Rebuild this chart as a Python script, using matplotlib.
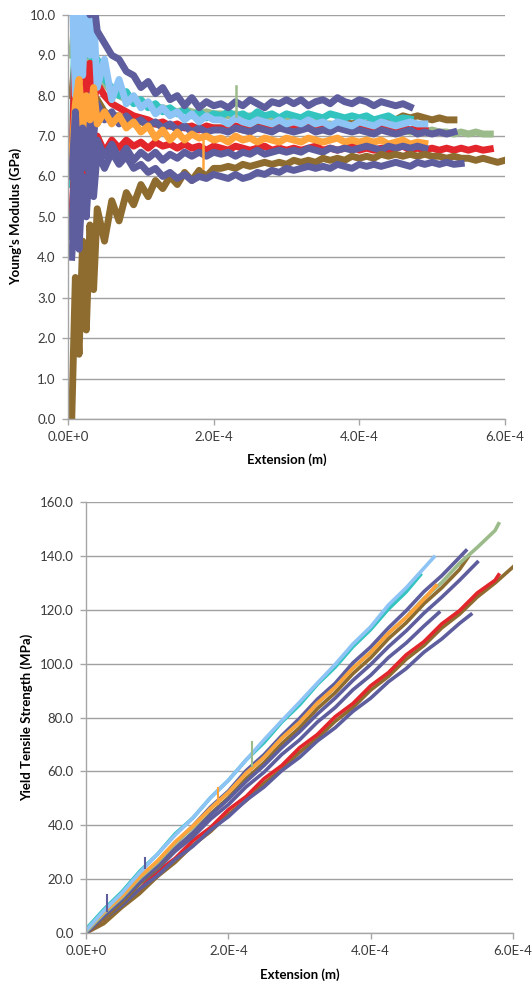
import numpy as np
import matplotlib
matplotlib.use("Agg")
import matplotlib.pyplot as plt
from matplotlib.ticker import FuncFormatter, MultipleLocator

plt.rcParams['font.family'] = ['Lato', 'DejaVu Sans']

# colours of the series
SLATE = "#5E5E9E"
RED = "#E2262B"
BROWN = "#8E6C30"
GREEN = "#9CBB8A"
TEAL = "#33C4C0"
LBLUE = "#8DC4F5"
ORANGE = "#FFA33A"

# ---------- top chart: Young's modulus (GPa) vs extension (x 1E-4 m) ----------
x_top = [0.05, 0.1, 0.15, 0.2, 0.25, 0.3, 0.35, 0.4,
         0.5, 0.6, 0.7, 0.8, 0.9, 1.0,
         1.1, 1.2, 1.3, 1.4, 1.5, 1.6, 1.7, 1.8, 1.9, 2.0,
         2.1, 2.2, 2.3, 2.4, 2.5, 2.6, 2.7, 2.8, 2.9, 3.0,
         3.1, 3.2, 3.3, 3.4, 3.5, 3.6, 3.7, 3.8, 3.9, 4.0,
         4.1, 4.2, 4.3, 4.4, 4.5, 4.6, 4.7, 4.8, 4.9, 5.0,
         5.1, 5.2, 5.3, 5.4, 5.5, 5.6, 5.7, 5.8, 5.9, 6.0]

ym_green = [9.0, 10.0, 8.5, 9.5, 8.5, 9.0, 8.2, 8.6,
            8.3, 8.1, 8.0, 7.9, 7.85, 7.8,
            7.75, 7.7, 7.7, 7.65, 7.6, 7.65, 7.6, 7.55, 7.6, 7.55,
            7.55, 7.5, 7.55, 7.45, 7.5, 7.45, 7.5, 7.4, 7.45, 7.4,
            7.35, 7.4, 7.3, 7.35, 7.3, 7.3, 7.25, 7.3, 7.25, 7.2,
            7.25, 7.2, 7.15, 7.2, 7.15, 7.15, 7.1, 7.15, 7.1, 7.15,
            7.1, 7.1, 7.05, 7.1, 7.05, 7.1, 7.05, 7.05]
ym_brown_up = [8.0, 9.0, 7.5, 8.5, 7.8, 8.2, 7.6, 7.9,
               7.6, 7.5, 7.5, 7.4, 7.4, 7.35,
               7.3, 7.3, 7.25, 7.25, 7.2, 7.25, 7.2, 7.2, 7.2, 7.2,
               7.2, 7.15, 7.2, 7.15, 7.2, 7.25, 7.2, 7.25, 7.2, 7.25,
               7.2, 7.25, 7.3, 7.25, 7.3, 7.25, 7.3, 7.35, 7.3, 7.35,
               7.3, 7.35, 7.4, 7.45, 7.4, 7.5, 7.45, 7.5, 7.45, 7.4,
               7.45, 7.4, 7.4]
ym_teal = [5.8, 10.5, 9.2, 10.2, 9.0, 9.4, 8.6, 8.9,
           8.4, 8.2, 8.0, 8.1, 7.8, 7.9,
           7.7, 7.8, 7.6, 7.7, 7.55, 7.65, 7.5, 7.6, 7.45, 7.55,
           7.5, 7.6, 7.5, 7.55, 7.45, 7.6, 7.5, 7.55, 7.45, 7.55,
           7.5, 7.45, 7.55, 7.5, 7.45, 7.55, 7.5, 7.45, 7.5, 7.45,
           7.5, 7.4, 7.45, 7.5, 7.4, 7.45, 7.42]
ym_red_up = [6.0, 9.5, 7.5, 9.0, 8.0, 8.8, 7.8, 8.3,
             8.0, 7.8, 7.7, 7.6, 7.5, 7.45,
             7.4, 7.3, 7.35, 7.25, 7.3, 7.2, 7.25, 7.15, 7.25, 7.2,
             7.2, 7.15, 7.25, 7.2, 7.15, 7.2, 7.25, 7.15, 7.2, 7.25,
             7.2, 7.25, 7.2, 7.3, 7.2, 7.25, 7.2, 7.25, 7.2, 7.25,
             7.2, 7.15, 7.2, 7.25, 7.15, 7.2, 7.15, 7.2, 7.15]
ym_red_low = [5.0, 6.6, 5.2, 7.2, 5.6, 6.8, 6.2, 7.0,
              6.6, 6.9, 6.7, 6.9, 6.75, 6.85,
              6.7, 6.85, 6.75, 6.8, 6.7, 6.8, 6.7, 6.75, 6.65, 6.75,
              6.7, 6.65, 6.75, 6.7, 6.65, 6.7, 6.75, 6.65, 6.7, 6.65,
              6.7, 6.65, 6.7, 6.75, 6.65, 6.7, 6.65, 6.7, 6.75, 6.65,
              6.7, 6.65, 6.7, 6.65, 6.7, 6.75, 6.65, 6.7, 6.65, 6.7,
              6.65, 6.7, 6.65, 6.7, 6.65, 6.7, 6.65, 6.68]
ym_lblue = [11.0, 8.0, 11.0, 8.5, 10.5, 9.0, 10.0, 8.2,
            8.9, 7.9, 8.4, 7.8, 8.0, 7.7,
            7.85, 7.55, 7.7, 7.5, 7.6, 7.4, 7.55, 7.35, 7.5, 7.4,
            7.4, 7.3, 7.45, 7.35, 7.3, 7.4, 7.35, 7.3, 7.4, 7.3,
            7.35, 7.3, 7.4, 7.3, 7.35, 7.25, 7.35, 7.3, 7.25, 7.35,
            7.3, 7.25, 7.35, 7.3, 7.25, 7.3, 7.35, 7.3, 7.3]
ym_orange = [6.5, 7.8, 8.4, 7.2, 8.0, 7.4, 8.2, 7.3,
             7.6, 7.3, 7.5, 7.2, 7.35, 7.1,
             7.25, 6.95, 7.15, 6.9, 7.1, 6.9, 7.05, 6.95, 7.0, 6.9,
             6.95, 6.85, 7.0, 6.9, 6.95, 6.85, 6.95, 6.9, 6.85, 6.95,
             6.9, 6.85, 6.95, 6.9, 6.85, 6.9, 6.95, 6.85, 6.9, 6.85,
             6.9, 6.85, 6.9, 6.8, 6.85, 6.9, 6.8, 6.85, 6.82]
ym_slate_mid = [4.5, 6.8, 5.2, 7.6, 6.5, 8.0, 7.0, 7.8,
                7.4, 7.6, 7.3, 7.5, 7.3, 7.4,
                7.25, 7.35, 7.2, 7.3, 7.15, 7.25, 7.1, 7.2, 7.1, 7.15,
                7.15, 7.1, 7.2, 7.15, 7.1, 7.2, 7.15, 7.1, 7.2, 7.15,
                7.1, 7.15, 7.2, 7.1, 7.15, 7.1, 7.2, 7.15, 7.1, 7.15,
                7.1, 7.05, 7.15, 7.1, 7.05, 7.1, 7.15, 7.05, 7.1, 7.05,
                7.1, 7.05, 7.1]
ym_slate_lowmid = [6.0, 7.6, 5.5, 7.2, 6.2, 7.0, 6.4, 6.9,
                   6.5, 6.8, 6.45, 6.7, 6.4, 6.6,
                   6.45, 6.6, 6.4, 6.55, 6.45, 6.6, 6.5, 6.6, 6.5, 6.6,
                   6.55, 6.6, 6.5, 6.6, 6.55, 6.65, 6.55, 6.6, 6.65, 6.6,
                   6.65, 6.6, 6.7, 6.65, 6.6, 6.7, 6.65, 6.7, 6.65, 6.7,
                   6.75, 6.7, 6.65, 6.75, 6.7, 6.75, 6.7, 6.75, 6.7]
ym_brown_low = [0.0, 3.5, 1.6, 4.4, 2.2, 4.8, 3.2, 5.2,
                4.4, 5.4, 4.9, 5.6, 5.3, 5.8,
                5.5, 5.9, 5.7, 6.0, 5.8, 6.1, 5.9, 6.15, 6.0, 6.2,
                6.2, 6.25, 6.2, 6.3, 6.25, 6.3, 6.35, 6.3, 6.35, 6.3,
                6.4, 6.35, 6.4, 6.35, 6.45, 6.4, 6.45, 6.4, 6.5, 6.45,
                6.5, 6.45, 6.55, 6.5, 6.55, 6.5, 6.55, 6.5, 6.55, 6.5,
                6.5, 6.45, 6.5, 6.45, 6.45, 6.4, 6.45, 6.4, 6.35, 6.4]
ym_slate_bot = [4.0, 5.5, 4.2, 6.0, 5.0, 6.5, 5.5, 6.6,
                6.2, 6.6, 6.3, 6.5, 6.2, 6.3,
                6.1, 6.2, 6.0, 6.1, 5.95, 6.05, 5.9, 6.0, 5.95, 6.05,
                6.0, 5.95, 6.05, 5.95, 6.0, 6.1, 6.05, 6.15, 6.1, 6.2,
                6.15, 6.2, 6.25, 6.2, 6.25, 6.2, 6.3, 6.25, 6.2, 6.3,
                6.25, 6.3, 6.25, 6.3, 6.35, 6.3, 6.25, 6.35, 6.3, 6.35,
                6.3, 6.35, 6.3, 6.32]
ym_slate_top = [11.0, 10.5, 11.0, 10.2, 10.6, 10.0, 10.4, 9.6,
                9.3, 9.0, 8.9, 8.6, 8.5, 8.2,
                8.35, 8.05, 8.2, 7.9, 8.0, 7.75, 7.95, 7.7, 7.85, 7.75,
                7.8, 7.7, 7.85, 7.75, 7.9, 7.8, 7.7, 7.85, 7.8, 7.9,
                7.8, 7.9, 7.75, 7.85, 7.9, 7.8, 7.95, 7.85, 7.8, 7.9,
                7.85, 7.75, 7.85, 7.8, 7.75, 7.8, 7.72]

# drawing order, back to front
top_series = [
    (ym_green, GREEN), (ym_brown_up, BROWN), (ym_teal, TEAL),
    (ym_red_up, RED), (ym_red_low, RED), (ym_slate_mid, SLATE),
    (ym_lblue, LBLUE), (ym_orange, ORANGE), (ym_slate_lowmid, SLATE),
    (ym_brown_low, BROWN), (ym_slate_bot, SLATE), (ym_slate_top, SLATE),
]
# single-sample spikes: extension, base, tip
top_spikes = [(2.3, 7.5, 8.25, GREEN), (1.85, 6.95, 6.2, ORANGE)]

# ---------- bottom chart: yield tensile strength (MPa) vs extension ----------
x_bot = [0, 0.25, 0.5, 0.75, 1.0, 1.25, 1.5, 1.75, 2.0, 2.25, 2.5, 2.75,
         3.0, 3.25, 3.5, 3.75, 4.0, 4.25, 4.5, 4.75, 5.0, 5.25, 5.5, 5.75]

ys_brown_low = [0, 3.5, 9.4, 14.6, 20.9, 26.2, 32.6, 37.7, 44.1, 49.2, 55.6, 60.7,
                67.1, 72.3, 78.6, 83.7, 90.2, 95.3, 101.7, 106.8, 113.3, 118.4, 124.8, 130.0]
ys_red = [0, 5.2, 11.3, 16.2, 22.8, 27.7, 34.3, 39.2, 45.8, 50.7, 57.3, 62.2,
          68.8, 73.7, 80.3, 85.2, 91.8, 96.7, 103.3, 108.2, 114.8, 119.7, 126.3, 131.0]
ys_slate_d = [0, 5.3, 10.2, 16.3, 21.2, 27.3, 32.2, 38.3, 43.2, 49.3, 54.2, 60.3,
              65.2, 71.3, 76.2, 82.3, 87.2, 93.3, 98.2, 104.3, 109.2, 115.0]
ys_slate_c = [0, 6.3, 11.7, 18.3, 23.7, 30.3, 35.7, 42.3, 47.7, 54.3, 59.7, 66.3,
              71.7, 78.3, 83.7, 90.3, 95.7, 102.3, 107.7, 114.0]
ys_brown_up = [0, 5.3, 11.2, 18.3, 24.2, 31.3, 37.2, 44.3, 50.2, 57.3, 63.2, 70.3,
               76.2, 83.3, 89.2, 96.3, 102.2, 109.3, 115.2, 122.3, 128.2, 135.0]
ys_slate_b = [0, 6.3, 12.2, 18.8, 24.7, 31.3, 37.2, 43.8, 49.7, 56.3, 62.2, 68.8,
              74.7, 81.3, 87.2, 93.8, 99.7, 106.3, 112.2, 118.8, 124.7, 131.0]
ys_slate_a = [0.5, 7.3, 13.2, 20.3, 26.2, 33.3, 39.7, 46.8, 52.7, 60.3, 66.2, 73.3,
              79.7, 86.8, 92.7, 100.3, 106.2, 113.3, 119.7, 126.8, 132.7, 139.5]
ys_green = [0.5, 7.3, 13.2, 20.3, 26.2, 33.3, 39.2, 46.3, 52.2, 59.3, 65.2, 72.3,
            78.2, 85.3, 91.2, 98.3, 104.2, 111.3, 117.2, 124.3, 130.2, 137.3, 143.2, 149.5]
ys_orange = [1.0, 7.8, 13.7, 20.8, 26.7, 33.8, 39.7, 46.3, 52.2, 59.3, 65.2, 72.3,
             78.2, 85.3, 91.2, 98.3, 104.2, 111.3, 117.2, 124.0]
ys_teal = [1.5, 8.8, 15.2, 22.8, 29.2, 36.8, 42.7, 50.3, 56.7, 64.3, 70.7, 78.3,
           84.7, 92.3, 98.7, 106.3, 112.7, 120.3, 126.7]
ys_lblue = [1.0, 8.3, 14.7, 22.3, 29.2, 36.3, 42.7, 50.3, 56.7, 64.3, 71.7, 78.8,
            85.7, 92.8, 99.7, 107.3, 113.7, 121.8, 128.2, 135.5]

# where each run stops: extension, strength
bot_ends = {
    "brown_low": (6.0, 135.9), "red": (5.8, 133.0), "slate_d": (5.41, 118.3),
    "slate_c": (4.96, 119.0), "brown_up": (5.37, 139.6), "slate_b": (5.5, 137.7),
    "slate_a": (5.34, 142.0), "green": (5.8, 152.0), "orange": (4.92, 129.0),
    "teal": (4.7, 133.0), "lblue": (4.89, 139.6),
}
bot_series = [
    ("brown_low", ys_brown_low, BROWN), ("red", ys_red, RED),
    ("slate_d", ys_slate_d, SLATE), ("slate_c", ys_slate_c, SLATE),
    ("brown_up", ys_brown_up, BROWN), ("slate_b", ys_slate_b, SLATE),
    ("slate_a", ys_slate_a, SLATE), ("green", ys_green, GREEN),
    ("orange", ys_orange, ORANGE), ("teal", ys_teal, TEAL),
    ("lblue", ys_lblue, LBLUE),
]
bot_spikes = [(2.33, 62, 71, GREEN), (1.85, 48, 54, ORANGE),
              (0.83, 24, 28, SLATE), (0.29, 8, 14, SLATE)]


def sci(v, pos):
    if abs(v) < 1e-12:
        return "0.0E+0"
    e = int(np.floor(np.log10(abs(v)) + 1e-9))
    m = v / 10 ** e
    return f"{m:.1f}E{e:+d}"


def style(ax, ymax, ystep):
    ax.set_xlim(0, 6e-4)
    ax.set_ylim(0, ymax)
    ax.xaxis.set_major_locator(MultipleLocator(2e-4))
    ax.yaxis.set_major_locator(MultipleLocator(ystep))
    ax.xaxis.set_major_formatter(FuncFormatter(sci))
    ax.yaxis.set_major_formatter(FuncFormatter(lambda v, p: f"{v:.1f}"))
    ax.grid(axis="y", color="#A0A0A0", lw=1.0)
    ax.set_axisbelow(True)
    for s in ("top", "right"):
        ax.spines[s].set_visible(False)
    for s in ("left", "bottom"):
        ax.spines[s].set_color("#A6A6A6")
        ax.spines[s].set_linewidth(1.0)
    ax.tick_params(axis="both", colors="#A6A6A6", labelcolor="#3A3A3A",
                   labelsize=9.5, length=4, width=1)
    ax.tick_params(axis="y", pad=5)
    ax.tick_params(axis="x", pad=5)


fig = plt.figure(figsize=(5.32, 9.88), dpi=100)

ax1 = fig.add_axes([0.128, 0.576, 0.821, 0.409])
for vals, col in top_series:
    xs = np.array(x_top[:len(vals)]) * 1e-4
    ax1.plot(xs, vals, color=col, lw=5.0)
for xe, y0, y1, col in top_spikes:
    ax1.plot([xe * 1e-4, xe * 1e-4], [y0, y1], color=col, lw=1.8)
style(ax1, 10, 1)
ax1.set_xlabel("Extension (m)", fontsize=9.5, fontweight="bold", labelpad=7)
ax1.set_ylabel("Young's Modulus (GPa)", fontsize=9.5, fontweight="bold", labelpad=5)

ax2 = fig.add_axes([0.162, 0.0557, 0.802, 0.436])
for key, vals, col in bot_series:
    ex, ey = bot_ends[key]
    xs = list(x_bot[:len(vals)]) + [ex]
    ys = list(vals) + [ey]
    ax2.plot(np.array(xs) * 1e-4, ys, color=col, lw=2.6)
for xe, y0, y1, col in bot_spikes:
    ax2.plot([xe * 1e-4, xe * 1e-4], [y0, y1], color=col, lw=1.5)
style(ax2, 160, 20)
ax2.set_xlabel("Extension (m)", fontsize=9.5, fontweight="bold", labelpad=8)
ax2.set_ylabel("Yield Tensile Strength (MPa)", fontsize=9.5, fontweight="bold", labelpad=5)

fig.savefig("out.png", dpi=100)
